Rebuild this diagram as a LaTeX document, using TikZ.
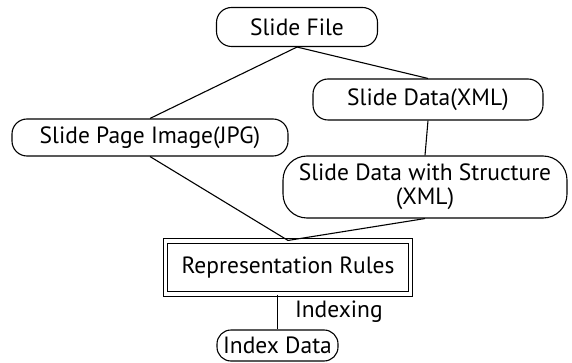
\documentclass[tikz,border=0pt]{standalone}
\usepackage{fontspec}
\setmainfont{PT Sans}
\usetikzlibrary{positioning}
\tikzset{
  dat/.style = {draw=black, rounded corners=15pt, line width=1.1pt,
    align=center, inner sep=0pt, font=\fontsize{23.5}{24}\selectfont},
  rul/.style = {draw=black, double, double distance=3.6pt, line width=1.1pt,
    inner sep=0pt, font=\fontsize{23.5}{24}\selectfont},
  lbl/.style = {inner sep=0pt, font=\fontsize{23.5}{24}\selectfont},
  lk/.style = {draw=black, line width=1.1pt}
}
\begin{document}
\begin{tikzpicture}[x=1pt, y=-1pt]
  \useasboundingbox (0,0) rectangle (572,363);
  \node [dat, minimum width=161pt, minimum height=39pt] (file) at (297,27) {Slide File};
  \node [dat, minimum width=276pt, minimum height=37pt] (page) at (150,137.5) {Slide Page Image(JPG)};
  \node [dat, minimum width=230pt, minimum height=41pt] (xml) at (428,99.5) {Slide Data(XML)};
  \node [dat, rounded corners=24pt, minimum width=284pt, minimum height=62pt] (struct) at (425,187)
    {Slide Data with Structure\\(XML)};
  \node [rul, minimum width=245pt, minimum height=53pt] (rules) at (288,267.5) {Representation Rules};
  \node [dat, rounded corners=14pt, minimum width=121pt, minimum height=31pt] (index) at (277.5,345.5) {Index Data};
  % links
  \draw [lk] (file.south) -- (page.north);
  \draw [lk] (file.south) -- (xml.north);
  \draw [lk] (xml.south) -- (struct.north);
  \draw [lk] (page.south) -- (rules.north);
  \draw [lk] (struct.south) -- (rules.north);
  \draw [lk] (index.north |- rules.south) -- (index.north)
    node [lbl, midway, right=17pt] (idx) {Indexing};
\end{tikzpicture}
\end{document}
